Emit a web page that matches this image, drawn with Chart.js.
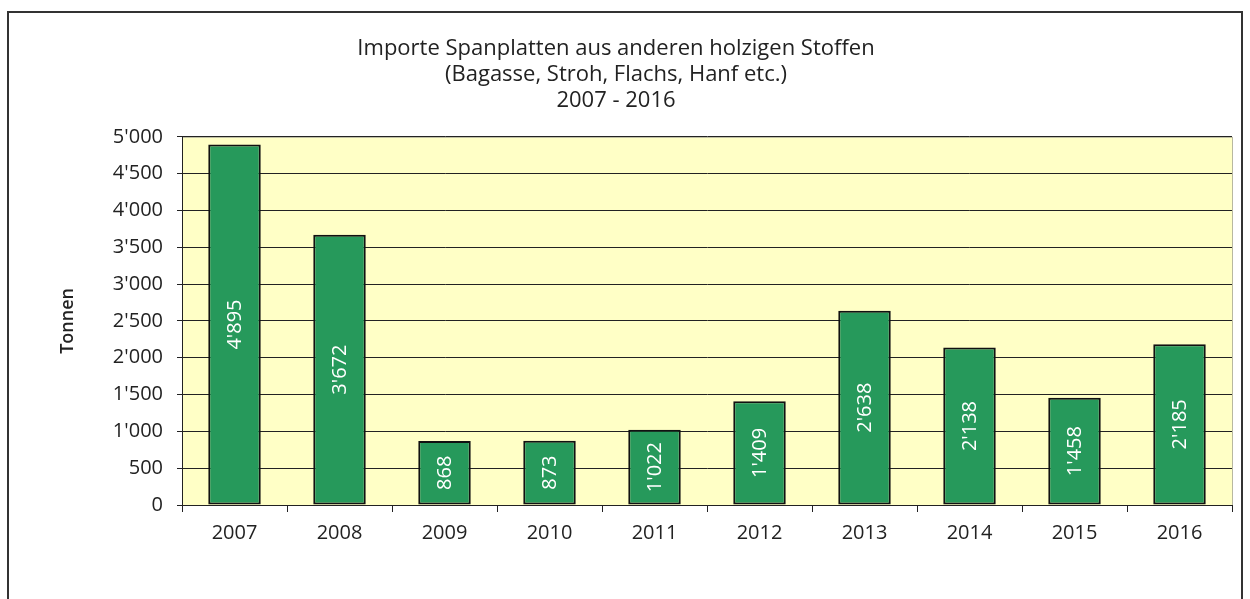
<!DOCTYPE html>
<html>
<head>
<meta charset="utf-8">
<title>Importe Spanplatten</title>
<script src="https://cdn.jsdelivr.net/npm/chart.js@4"></script>
<style>
  html, body { margin: 0; padding: 0; background: #fff; }
  #wrap { position: relative; width: 1250px; height: 599px; overflow: hidden; }
  #frame {
    position: absolute; left: 7px; top: 11px; width: 1236px; height: 620px;
    border: 2px solid #333; box-sizing: border-box; pointer-events: none;
  }
  canvas { position: absolute; left: 0; top: 0; }
</style>
</head>
<body>
<div id="wrap">
  <canvas id="chart" width="1250" height="599"></canvas>
  <div id="frame"></div>
</div>
<script>
// --- DATA ---
const years = ["2007", "2008", "2009", "2010", "2011", "2012", "2013", "2014", "2015", "2016"];
const tonnes = [4895, 3672, 868, 873, 1022, 1409, 2638, 2138, 1458, 2185];
const titleLines = [
  "Importe Spanplatten aus anderen holzigen Stoffen",
  "(Bagasse, Stroh, Flachs, Hanf etc.)",
  "2007 - 2016",
];
const yMin = 0;
const yMax = 5000;
const yStep = 500;

const FONT = "'Open Sans'";

// Swiss thousands separator: 4'895
function fmt(n) {
  return String(n).replace(/\B(?=(\d{3})+(?!\d))/g, "'");
}

// plot background + thin border
const plotBackground = {
  id: "plotBackground",
  beforeDraw(chart) {
    const { ctx, chartArea: a } = chart;
    ctx.save();
    ctx.fillStyle = "#ffffc6";
    ctx.fillRect(a.left, a.top, a.right - a.left, a.bottom - a.top);
    ctx.strokeStyle = "#b8b8a0";
    ctx.lineWidth = 1;
    ctx.strokeRect(a.left + 0.5, a.top + 0.5, a.right - a.left, a.bottom - a.top);
    ctx.restore();
  },
};

// rotated value labels in the middle of each bar
const barLabels = {
  id: "barLabels",
  afterDatasetsDraw(chart) {
    const { ctx } = chart;
    const meta = chart.getDatasetMeta(0);
    ctx.save();
    ctx.fillStyle = "#ffffff";
    ctx.font = "20px " + FONT;
    ctx.textAlign = "center";
    ctx.textBaseline = "middle";
    meta.data.forEach((bar, i) => {
      const cy = (bar.y + bar.base) / 2;
      ctx.save();
      ctx.translate(bar.x, cy);
      ctx.rotate(-Math.PI / 2);
      ctx.fillText(fmt(tonnes[i]), 0, 1);
      ctx.restore();
    });
    ctx.restore();
  },
};

const ctx = document.getElementById("chart").getContext("2d");
new Chart(ctx, {
  type: "bar",
  data: {
    labels: years,
    datasets: [
      {
        data: tonnes,
        backgroundColor: "#26995b",
        borderColor: "#111",
        borderWidth: 2,
        borderSkipped: false,
        barPercentage: 0.5,
        categoryPercentage: 1,
      },
    ],
  },
  options: {
    responsive: false,
    animation: false,
    layout: { padding: { left: 0, right: 18, top: 12, bottom: 0 } },
    plugins: {
      legend: { display: false },
      tooltip: { enabled: false },
      title: {
        display: true,
        text: titleLines,
        color: "#222",
        font: { family: FONT, size: 22, weight: "normal", lineHeight: 1.18 },
        padding: { top: 24, bottom: 23 },
      },
    },
    scales: {
      x: {
        grid: {
          drawOnChartArea: false,
          drawTicks: true,
          tickLength: 7,
          color: "#222",
        },
        border: { color: "#222", width: 1 },
        ticks: {
          color: "#222",
          font: { family: FONT, size: 20 },
          padding: 9,
        },
        afterFit(scale) {
          scale.height = 94;
        },
      },
      y: {
        min: yMin,
        max: yMax,
        grid: {
          color: "#222",
          lineWidth: 1,
          tickLength: 5,
        },
        border: { color: "#222", width: 1 },
        ticks: {
          stepSize: yStep,
          color: "#222",
          font: { family: FONT, size: 20 },
          padding: 14,
          callback: (v) => fmt(v),
        },
        title: {
          display: true,
          text: "Tonnen",
          color: "#222",
          font: { family: FONT, size: 18, weight: "600" },
          padding: { top: 57, bottom: 0 },
        },
        afterFit(scale) {
          scale.width = 182;
        },
      },
    },
  },
  plugins: [plotBackground, barLabels],
});
</script>
</body>
</html>
